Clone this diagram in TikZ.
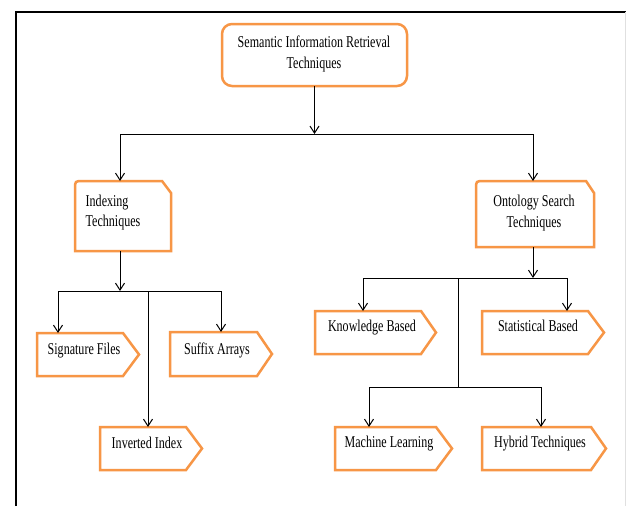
\documentclass[tikz,border=0pt]{standalone}
\usepackage{fontspec}
\setmainfont{Liberation Serif}[FakeStretch=0.73]
\usetikzlibrary{arrows.meta,fit}
\definecolor{orng}{HTML}{F79646}
\tikzset{
  obox/.style={draw=orng, line width=2.5pt, line join=miter},
  body/.style={inner sep=0pt, outer sep=0pt},
  lbl/.style={inner sep=0pt, anchor=base, font=\fontsize{16.5}{20.5}\selectfont, align=center},
  conn/.style={draw=black, line width=1pt},
  arr/.style={conn, -{Straight Barb[length=7pt,width=9pt]}},
}
\newcommand{\pentbox}[6]{%
  \node[body, fit={(#2,#3) (#4,#5)}] (#1) {};
  \draw[obox] (#2,#3) -- (#4,#3) -- (#6,{(#3+#5)/2}) -- (#4,#5) -- (#2,#5) -- cycle;}
\begin{document}
\begin{tikzpicture}[x=1pt,y=-1pt]
\useasboundingbox (0,0) rectangle (626,506);
\fill[white] (0,0) rectangle (626,506);
% frame
\draw[line width=2pt] (16,506) -- (16,12) -- (626,12);
\draw[black!12, line width=1pt] (625.5,12) -- (625.5,506);

% top box
\node[body, fit={(222,24) (407,86)}] (top) {};
\draw[obox, rounded corners=10pt] (top.north west) rectangle (top.south east);
\node[lbl] (topT) at (314,68.3) {Semantic Information Retrieval\\Techniques};

% indexing
\node[body, fit={(75,181) (171,251)}] (idx) {};
\draw[obox] (75,189) .. controls (75,181) .. (83,181) -- (162,181) -- (171,193) -- (171,251) -- (75,251) -- cycle;
\node[lbl, anchor=base west, align=left] (idxT) at (85.5,226.7) {Indexing\\Techniques};

% ontology
\node[body, fit={(476,181) (594,247)}] (ont) {};
\draw[obox] (476,189) .. controls (476,181) .. (484,181) -- (586,181) -- (594,193) -- (594,247) -- (476,247) -- cycle;
\node[lbl] (ontT) at (534,227) {Ontology Search\\Techniques};

% leaf boxes
\pentbox{sig}{37}{333}{123}{376}{139}
\pentbox{suf}{170}{332}{257}{376}{272}
\pentbox{inv}{100}{427}{186}{470}{202}
\pentbox{kno}{315}{311}{421}{354}{436}
\pentbox{sta}{482}{311}{588}{354}{604}
\pentbox{mac}{335}{427}{436}{470}{452}
\pentbox{hyb}{482}{427}{591}{470}{606}

\node[lbl] (sigT) at (84,354.3) {Signature Files};
\node[lbl] (sufT) at (217,354) {Suffix Arrays};
\node[lbl] (invT) at (147,448) {Inverted Index};
\node[lbl] (knoT) at (372,331.7) {Knowledge Based};
\node[lbl] (staT) at (538,331.7) {Statistical Based};
\node[lbl] (macT) at (389,447.7) {Machine Learning};
\node[lbl] (hybT) at (540,447.7) {Hybrid Techniques};

% connectors level 1
\coordinate (h1) at (314.5,134);
\coordinate (h1L) at (120,134);
\coordinate (h1R) at (533,134);
\draw[arr] (top.south) -- (h1);
\draw[conn] (h1L) -- (h1R);
\draw[arr] (h1L) -- (h1L |- idx.north);
\draw[arr] (h1R) -- (h1R |- ont.north);

% left subtree
\coordinate (h2) at (120,291);
\coordinate (h2L) at (58,291);
\coordinate (h2R) at (221,291);
\coordinate (h2M) at (148,291);
\draw[arr] (h2 |- idx.south) -- (h2);
\draw[conn] (h2L) -- (h2R);
\draw[arr] (h2L) -- (h2L |- sig.north);
\draw[arr] (h2R) -- (h2R |- suf.north);
\draw[arr] (h2M) -- (h2M |- inv.north);

% right subtree
\coordinate (h3) at (533,278);
\coordinate (h3L) at (363,278);
\coordinate (h3R) at (567,278);
\coordinate (h3M) at (458,278);
\coordinate (h4) at (458,387);
\coordinate (h4L) at (369,387);
\coordinate (h4R) at (541,387);
\draw[arr] (h3 |- ont.south) -- (h3);
\draw[conn] (h3L) -- (h3R);
\draw[arr] (h3L) -- (h3L |- kno.north);
\draw[arr] (h3R) -- (h3R |- sta.north);
\draw[conn] (h3M) -- (h4);
\draw[conn] (h4L) -- (h4R);
\draw[arr] (h4L) -- (h4L |- mac.north);
\draw[arr] (h4R) -- (h4R |- hyb.north);
\end{tikzpicture}
\end{document}
